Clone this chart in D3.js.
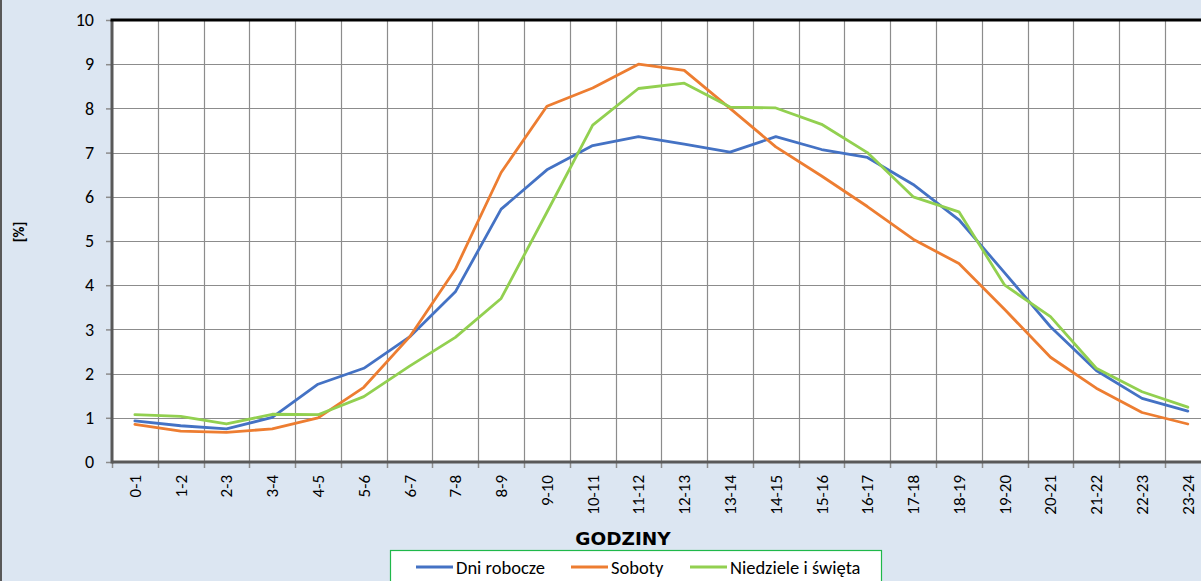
<!DOCTYPE html>
<html><head><meta charset="utf-8">
<script src="https://cdn.jsdelivr.net/npm/d3@7"></script>
<style>
html,body{margin:0;padding:0;background:#dce6f2;}
svg{display:block;}
text{font-family:Carlito,Lato,"Liberation Sans",sans-serif;}
</style></head><body>
<svg id="c" width="1201" height="581"></svg>
<script>
const categories = ["0-1","1-2","2-3","3-4","4-5","5-6","6-7","7-8","8-9","9-10","10-11","11-12","12-13","13-14","14-15","15-16","16-17","17-18","18-19","19-20","20-21","21-22","22-23","23-24"];
const dniRobocze = [0.93,0.82,0.75,1.01,1.76,2.12,2.83,3.85,5.72,6.61,7.16,7.36,7.19,7.01,7.36,7.07,6.89,6.28,5.48,4.28,3.06,2.07,1.44,1.15];
const soboty = [0.85,0.70,0.67,0.75,1.00,1.69,2.83,4.36,6.55,8.05,8.46,9.00,8.86,8.00,7.13,6.47,5.78,5.04,4.49,3.45,2.37,1.67,1.12,0.86];
const niedziele = [1.07,1.03,0.86,1.08,1.07,1.48,2.17,2.82,3.70,5.65,7.62,8.45,8.57,8.03,8.01,7.64,7.00,6.00,5.66,4.00,3.29,2.12,1.59,1.24];
const yTicks = [0,1,2,3,4,5,6,7,8,9,10];
const series = [
  {name:"Dni robocze", values:dniRobocze, color:"#4472c4"},
  {name:"Soboty", values:soboty, color:"#ed7d31"},
  {name:"Niedziele i święta", values:niedziele, color:"#92d050"}
];

(function(){
const svg = d3.select("#c");
const pL = 112, pT = 20, pB = 462, bw = 45.78;
const pR = pL + bw*categories.length;
const x = d3.scaleBand().domain(categories).range([pL, pR]).paddingInner(0).paddingOuter(0);
const y = d3.scaleLinear().domain([0,10]).range([pB, pT]);

svg.append("rect").attr("x",0).attr("y",0).attr("width",2).attr("height",581).attr("fill","#595959");
svg.append("rect").attr("x",pL).attr("y",pT).attr("width",pR-pL).attr("height",pB-pT).attr("fill","#fff");

const g = svg.append("g");
g.selectAll(".hg").data(yTicks).join("line")
  .attr("x1",pL).attr("x2",pR)
  .attr("y1",d=>Math.round(y(d))+0.5).attr("y2",d=>Math.round(y(d))+0.5)
  .attr("stroke","#8c8c8c").attr("stroke-width",1.2);
const bounds = categories.map(c=>x(c)).slice(1).concat([pR]);
g.selectAll(".vg").data(bounds).join("line")
  .attr("x1",d=>Math.round(d)+0.5).attr("x2",d=>Math.round(d)+0.5)
  .attr("y1",pT).attr("y2",pB)
  .attr("stroke","#8c8c8c").attr("stroke-width",1.2);

const yAxis = d3.axisLeft(y).tickValues(yTicks).tickSize(6).tickPadding(12);
const ya = svg.append("g").attr("transform",`translate(${pL},0)`).call(yAxis);
ya.select(".domain").remove();
ya.selectAll(".tick line").attr("stroke","#8c8c8c").attr("stroke-width",1.5);
ya.selectAll(".tick text").attr("font-size",18).attr("fill","#000").style("font-family","Carlito,Lato,sans-serif");

const xAxis = d3.axisBottom(x).tickSize(0).tickPadding(0);
const xa = svg.append("g").attr("transform",`translate(0,${pB})`).call(xAxis);
xa.select(".domain").remove();
xa.selectAll(".tick text")
  .attr("font-size",17).attr("fill","#000")
  .attr("transform","rotate(-90)")
  .attr("x",-13).attr("y",0).attr("dy","0.35em")
  .attr("text-anchor","end")
  .style("font-family","Carlito,Lato,sans-serif");
svg.append("g").selectAll("line").data([pL].concat(bounds)).join("line")
  .attr("x1",d=>Math.round(d)+0.5).attr("x2",d=>Math.round(d)+0.5)
  .attr("y1",pB).attr("y2",pB+6)
  .attr("stroke","#8c8c8c").attr("stroke-width",1.5);

svg.append("line").attr("x1",pL).attr("x2",pL).attr("y1",pT).attr("y2",pB+1.5).attr("stroke","#595959").attr("stroke-width",3);
svg.append("line").attr("x1",pL).attr("x2",pR).attr("y1",pB).attr("y2",pB).attr("stroke","#595959").attr("stroke-width",3);
svg.append("line").attr("x1",pL-1.5).attr("x2",pR).attr("y1",pT).attr("y2",pT).attr("stroke","#000").attr("stroke-width",3);

const line = d3.line().x((d,i)=>x(categories[i])+x.bandwidth()/2).y(d=>y(d));
svg.append("g").selectAll("path").data(series).join("path")
  .attr("d",d=>line(d.values))
  .attr("fill","none").attr("stroke",d=>d.color).attr("stroke-width",2.8)
  .attr("stroke-linejoin","round").attr("stroke-linecap","round");

svg.append("text").attr("x",623).attr("y",545).attr("text-anchor","middle")
  .attr("font-size",18.5).attr("font-weight","bold").style("font-family","'DejaVu Sans',sans-serif").text("GODZINY");
svg.append("text").attr("transform","translate(24,232) rotate(-90)").attr("text-anchor","middle")
  .attr("font-size",15).attr("font-weight","bold").text("[%]");

svg.append("rect").attr("x",390.5).attr("y",550.5).attr("width",491).attr("height",40)
  .attr("fill","#fff").attr("stroke","#1fb84a").attr("stroke-width",1.2);
const legX = [416, 571, 690];
const lg = svg.append("g").selectAll("g").data(series).join("g")
  .attr("transform",(d,i)=>`translate(${legX[i]},567)`);
lg.append("line").attr("x1",0).attr("x2",37).attr("stroke",d=>d.color).attr("stroke-width",2.8);
lg.append("text").attr("x",40).attr("y",6.5).attr("font-size",18.5).attr("fill","#000").text(d=>d.name);
})();
</script>
</body></html>
